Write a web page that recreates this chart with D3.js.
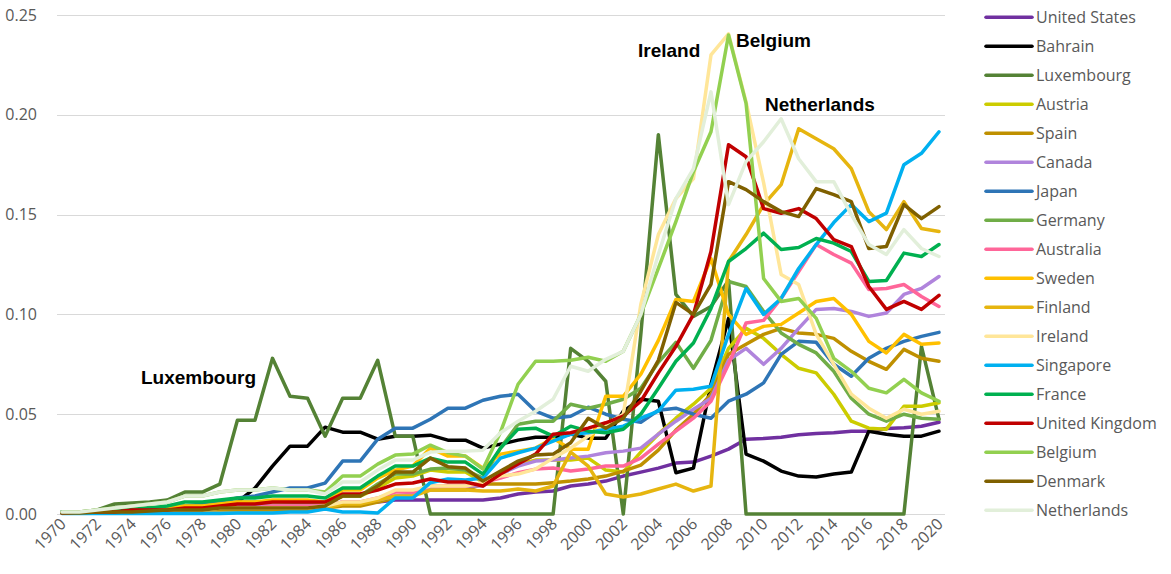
<!DOCTYPE html>
<html>
<head>
<meta charset="utf-8">
<script src="https://cdn.jsdelivr.net/npm/d3@7"></script>
<style>
  body { margin: 0; background: #fff; }
  svg { font-family: "Open Sans", "Liberation Sans", Arial, sans-serif; }
</style>
</head>
<body>
<svg id="chart" width="1171" height="574"></svg>
<script>
// years on the category axis
var years = d3.range(1970, 2021)
var yTicks = [0, 0.05, 0.10, 0.15, 0.20, 0.25]

var countries = ['United States', 'Bahrain', 'Luxembourg', 'Austria', 'Spain', 'Canada', 'Japan', 'Germany',
  'Australia', 'Sweden', 'Finland', 'Ireland', 'Singapore', 'France', 'United Kingdom', 'Belgium', 'Denmark', 'Netherlands']
var colors = ['#7030A0', '#000000', '#548235', '#CCCC00', '#BF9000', '#B084DC', '#2E75B6', '#70AD47',
  '#FF6699', '#FFC000', '#E6B50F', '#FFE699', '#00B0F0', '#00B050', '#C00000', '#92D050', '#7F6000', '#E2EFDA']

// values 1970 ... 2020
var unitedStates = [0.001, 0.001, 0.001, 0.0015, 0.002, 0.002, 0.0025, 0.003, 0.003, 0.003,
  0.004, 0.004, 0.004, 0.0045, 0.005, 0.005, 0.0055, 0.006, 0.006, 0.007,
  0.007, 0.007, 0.007, 0.007, 0.007, 0.008, 0.010, 0.011, 0.0115, 0.014,
  0.015, 0.0165, 0.019, 0.021, 0.023, 0.0255, 0.026, 0.029, 0.0325, 0.0375,
  0.0378, 0.0385, 0.0397, 0.0403, 0.0407, 0.0415, 0.0415, 0.0428, 0.0432, 0.044, 0.046]
var bahrain = [0.0005, 0.0005, 0.001, 0.001, 0.0015, 0.002, 0.002, 0.003, 0.003, 0.004,
  0.006, 0.013, 0.024, 0.034, 0.034, 0.0435, 0.041, 0.041, 0.0375, 0.039,
  0.039, 0.0395, 0.037, 0.037, 0.033, 0.035, 0.037, 0.0385, 0.0385, 0.040,
  0.038, 0.038, 0.0515, 0.0575, 0.0565, 0.0207, 0.023, 0.065, 0.098, 0.030,
  0.0265, 0.0215, 0.019, 0.0185, 0.020, 0.021, 0.0415, 0.040, 0.039, 0.039, 0.0415]
var luxembourg = [0.001, 0.001, 0.002, 0.005, 0.0055, 0.006, 0.007, 0.011, 0.011, 0.015,
  0.047, 0.047, 0.078, 0.059, 0.058, 0.039, 0.058, 0.058, 0.077, 0.039,
  0.039, 0, 0, 0, 0, 0, 0, 0, 0, 0.083,
  0.0765, 0.0665, 0, 0.09, 0.19, 0.11, 0.099, 0.104, 0.117, 0,
  0, 0, 0, 0, 0, 0, 0, 0, 0, 0.084, 0.0475]
var austria = [0.0005, 0.0005, 0.001, 0.001, 0.0015, 0.002, 0.002, 0.003, 0.003, 0.003,
  0.004, 0.004, 0.004, 0.004, 0.004, 0.005, 0.009, 0.009, 0.013, 0.018,
  0.019, 0.022, 0.021, 0.021, 0.016, 0.021, 0.025, 0.027, 0.027, 0.027,
  0.028, 0.022, 0.021, 0.031, 0.040, 0.048, 0.055, 0.063, 0.083, 0.093,
  0.088, 0.080, 0.073, 0.0707, 0.060, 0.0465, 0.043, 0.0425, 0.054, 0.054, 0.0557]
var spain = [0.0005, 0.0005, 0.001, 0.001, 0.001, 0.0015, 0.0015, 0.002, 0.002, 0.002,
  0.002, 0.002, 0.002, 0.002, 0.002, 0.003, 0.004, 0.004, 0.006, 0.008,
  0.010, 0.012, 0.012, 0.012, 0.015, 0.015, 0.015, 0.015, 0.0157, 0.0165,
  0.0175, 0.019, 0.0215, 0.0245, 0.032, 0.042, 0.050, 0.060, 0.080, 0.085,
  0.090, 0.093, 0.0907, 0.090, 0.088, 0.0815, 0.0765, 0.0725, 0.0825, 0.078, 0.0765]
var canada = [0.001, 0.001, 0.001, 0.0015, 0.002, 0.002, 0.002, 0.003, 0.003, 0.003,
  0.004, 0.004, 0.004, 0.004, 0.004, 0.004, 0.006, 0.006, 0.007, 0.009,
  0.010, 0.013, 0.014, 0.014, 0.014, 0.020, 0.024, 0.0265, 0.027, 0.028,
  0.029, 0.0307, 0.0315, 0.033, 0.040, 0.0465, 0.0525, 0.058, 0.077, 0.083,
  0.075, 0.083, 0.093, 0.1025, 0.103, 0.1015, 0.099, 0.1007, 0.110, 0.113, 0.119]
var japan = [0.001, 0.001, 0.001, 0.002, 0.002, 0.003, 0.003, 0.004, 0.005, 0.006,
  0.008, 0.009, 0.011, 0.013, 0.013, 0.0155, 0.0265, 0.0265, 0.0375, 0.043,
  0.043, 0.0475, 0.053, 0.053, 0.057, 0.059, 0.060, 0.0515, 0.048, 0.049,
  0.0535, 0.050, 0.0475, 0.046, 0.052, 0.053, 0.050, 0.048, 0.0565, 0.060,
  0.0657, 0.080, 0.0865, 0.086, 0.075, 0.069, 0.078, 0.083, 0.0865, 0.089, 0.091]
var germany = [0.001, 0.001, 0.001, 0.002, 0.002, 0.003, 0.003, 0.004, 0.004, 0.005,
  0.006, 0.006, 0.006, 0.006, 0.006, 0.006, 0.009, 0.009, 0.015, 0.020,
  0.020, 0.0225, 0.023, 0.022, 0.018, 0.033, 0.045, 0.0465, 0.0465, 0.055,
  0.053, 0.055, 0.0575, 0.063, 0.076, 0.086, 0.073, 0.087, 0.1165, 0.114,
  0.1015, 0.0907, 0.085, 0.0807, 0.0715, 0.058, 0.050, 0.0465, 0.050, 0.048, 0.0475]
var australia = [0.0005, 0.0005, 0.001, 0.001, 0.0015, 0.002, 0.002, 0.002, 0.003, 0.003,
  0.003, 0.003, 0.004, 0.004, 0.004, 0.004, 0.006, 0.006, 0.008, 0.011,
  0.011, 0.014, 0.014, 0.014, 0.0157, 0.018, 0.0207, 0.0225, 0.023, 0.0215,
  0.0225, 0.024, 0.024, 0.028, 0.035, 0.0415, 0.048, 0.0565, 0.075, 0.0957,
  0.097, 0.108, 0.1215, 0.135, 0.130, 0.1257, 0.1125, 0.113, 0.115, 0.109, 0.104]
var sweden = [0.0005, 0.001, 0.001, 0.0015, 0.002, 0.002, 0.003, 0.004, 0.004, 0.005,
  0.006, 0.006, 0.007, 0.007, 0.007, 0.006, 0.012, 0.012, 0.018, 0.022,
  0.024, 0.033, 0.029, 0.029, 0.023, 0.030, 0.0315, 0.033, 0.038, 0.0325,
  0.0325, 0.059, 0.059, 0.070, 0.087, 0.1075, 0.1065, 0.128, 0.100, 0.090,
  0.094, 0.095, 0.1007, 0.1065, 0.108, 0.100, 0.0865, 0.0807, 0.090, 0.085, 0.0857]
var finland = [0.0005, 0.0005, 0.001, 0.001, 0.001, 0.0015, 0.002, 0.002, 0.002, 0.003,
  0.003, 0.003, 0.003, 0.003, 0.003, 0.003, 0.005, 0.005, 0.007, 0.009,
  0.009, 0.012, 0.012, 0.012, 0.0115, 0.0115, 0.0125, 0.0115, 0.014, 0.031,
  0.024, 0.010, 0.0085, 0.010, 0.0125, 0.015, 0.0115, 0.014, 0.1265, 0.140,
  0.155, 0.165, 0.193, 0.188, 0.183, 0.173, 0.1515, 0.1425, 0.1565, 0.143, 0.1415]
var ireland = [0.0005, 0.0005, 0.001, 0.001, 0.001, 0.0015, 0.002, 0.002, 0.002, 0.003,
  0.003, 0.003, 0.003, 0.003, 0.003, 0.004, 0.006, 0.006, 0.008, 0.012,
  0.012, 0.014, 0.014, 0.014, 0.0157, 0.019, 0.020, 0.0225, 0.028, 0.033,
  0.039, 0.045, 0.050, 0.105, 0.140, 0.158, 0.168, 0.230, 0.2405, 0.2065,
  0.166, 0.120, 0.115, 0.090, 0.075, 0.060, 0.053, 0.048, 0.0525, 0.050, 0.0515]
var singapore = [0.0003, 0.0003, 0.0003, 0.0003, 0.0003, 0.0003, 0.0003, 0.0003, 0.0003, 0.0003,
  0.0005, 0.0005, 0.0005, 0.001, 0.001, 0.0025, 0.001, 0.001, 0.0005, 0.008,
  0.008, 0.0157, 0.0175, 0.017, 0.018, 0.028, 0.0307, 0.033, 0.0365, 0.040,
  0.0407, 0.0425, 0.044, 0.048, 0.0515, 0.062, 0.0625, 0.064, 0.090, 0.113,
  0.100, 0.108, 0.123, 0.135, 0.146, 0.155, 0.1465, 0.1507, 0.175, 0.1807, 0.1915]
var france = [0.001, 0.001, 0.001, 0.002, 0.003, 0.003, 0.004, 0.006, 0.006, 0.007,
  0.008, 0.008, 0.009, 0.009, 0.009, 0.008, 0.013, 0.013, 0.019, 0.024,
  0.024, 0.028, 0.026, 0.026, 0.020, 0.033, 0.0425, 0.043, 0.039, 0.044,
  0.0415, 0.0407, 0.0425, 0.050, 0.063, 0.0765, 0.0857, 0.103, 0.1265, 0.133,
  0.1407, 0.1325, 0.1335, 0.138, 0.1357, 0.1315, 0.1165, 0.117, 0.1307, 0.129, 0.135]
var unitedKingdom = [0.0005, 0.001, 0.001, 0.001, 0.002, 0.002, 0.002, 0.003, 0.003, 0.004,
  0.005, 0.005, 0.006, 0.006, 0.006, 0.006, 0.010, 0.010, 0.012, 0.015,
  0.0155, 0.0175, 0.016, 0.016, 0.014, 0.020, 0.025, 0.030, 0.040, 0.0407,
  0.043, 0.0457, 0.049, 0.0565, 0.0707, 0.084, 0.100, 0.1315, 0.185, 0.179,
  0.153, 0.1507, 0.153, 0.148, 0.1375, 0.134, 0.114, 0.1025, 0.1065, 0.1025, 0.1095]
var belgium = [0.001, 0.001, 0.002, 0.003, 0.004, 0.005, 0.006, 0.009, 0.009, 0.011,
  0.012, 0.012, 0.013, 0.012, 0.012, 0.011, 0.019, 0.019, 0.025, 0.0295,
  0.030, 0.0345, 0.0307, 0.029, 0.0225, 0.041, 0.065, 0.0765, 0.0765, 0.077,
  0.0785, 0.0765, 0.0815, 0.100, 0.123, 0.1465, 0.1715, 0.1915, 0.240, 0.2057,
  0.118, 0.1065, 0.108, 0.098, 0.078, 0.0715, 0.063, 0.0607, 0.0675, 0.0607, 0.0565]
var denmark = [0.0005, 0.0005, 0.001, 0.001, 0.001, 0.0015, 0.002, 0.002, 0.002, 0.003,
  0.003, 0.003, 0.003, 0.003, 0.003, 0.004, 0.009, 0.009, 0.014, 0.021,
  0.021, 0.028, 0.0237, 0.023, 0.0165, 0.0215, 0.0265, 0.0295, 0.030, 0.0357,
  0.048, 0.043, 0.048, 0.0615, 0.077, 0.106, 0.100, 0.115, 0.1665, 0.1625,
  0.1565, 0.1515, 0.149, 0.163, 0.160, 0.1565, 0.133, 0.134, 0.155, 0.148, 0.154]
var netherlands = [0.001, 0.001, 0.002, 0.003, 0.004, 0.005, 0.006, 0.009, 0.009, 0.011,
  0.012, 0.012, 0.013, 0.012, 0.012, 0.010, 0.016, 0.016, 0.022, 0.027,
  0.027, 0.031, 0.0315, 0.0315, 0.032, 0.0407, 0.0465, 0.0515, 0.0575, 0.074,
  0.0715, 0.0775, 0.0815, 0.100, 0.130, 0.158, 0.173, 0.2115, 0.155, 0.1765,
  0.1865, 0.198, 0.178, 0.1665, 0.1665, 0.150, 0.135, 0.130, 0.1425, 0.133, 0.129]

var seriesValues = [unitedStates, bahrain, luxembourg, austria, spain, canada, japan, germany,
  australia, sweden, finland, ireland, singapore, france, unitedKingdom, belgium, denmark, netherlands]

var callouts = [
  {text: 'Luxembourg', x: 141, y: 384},
  {text: 'Ireland', x: 638, y: 57},
  {text: 'Belgium', x: 736, y: 47},
  {text: 'Netherlands', x: 765, y: 111}
]

var svg = d3.select('#chart')

var x = d3.scalePoint().domain(years).range([62, 939])
var y = d3.scaleLinear().domain([0, 0.25]).range([514, 15])

/** grid lines */
svg.append('g').selectAll('line').data(yTicks).enter().append('line')
  .attr('x1', 57).attr('x2', 945)
  .attr('y1', function (d) { return Math.round(y(d)) + 0.5 })
  .attr('y2', function (d) { return Math.round(y(d)) + 0.5 })
  .style('stroke', '#d9d9d9').style('stroke-width', 1)

/** y axis labels */
svg.append('g').selectAll('text').data(yTicks).enter().append('text')
  .attr('x', 37).attr('y', function (d) { return y(d) + 5.5 })
  .attr('text-anchor', 'end')
  .style('font-size', '16px').style('fill', '#595959')
  .text(function (d) { return d3.format('.2f')(d) })

/** x axis labels, every other year */
svg.append('g').selectAll('text').data(years.filter(function (d) { return d % 2 === 0 })).enter().append('text')
  .attr('transform', function (d) { return 'translate(' + (x(d) + 5) + ',525) rotate(-45)' })
  .attr('text-anchor', 'end')
  .style('font-size', '16px').style('fill', '#595959')
  .text(function (d) { return d })

/** lines */
var line = d3.line()
  .x(function (d, i) { return x(years[i]) })
  .y(function (d) { return y(d) })

svg.append('g').selectAll('path').data(seriesValues).enter().append('path')
  .attr('d', line)
  .style('fill', 'none')
  .style('stroke', function (d, i) { return colors[i] })
  .style('stroke-width', 3.5)
  .style('stroke-linejoin', 'round')
  .style('stroke-linecap', 'round')

/** callout labels */
svg.append('g').selectAll('text').data(callouts).enter().append('text')
  .attr('x', function (d) { return d.x }).attr('y', function (d) { return d.y })
  .style('font-family', '"Liberation Sans", Arial, sans-serif')
  .style('font-size', '19px').style('font-weight', 'bold').style('fill', '#000')
  .text(function (d) { return d.text })

/** legend */
var legend = svg.append('g').selectAll('g').data(countries).enter().append('g')
  .attr('transform', function (d, i) { return 'translate(986,' + (17.3 + i * 29) + ')' })
legend.append('line')
  .attr('x1', 0).attr('x2', 46).attr('y1', 0).attr('y2', 0)
  .style('stroke', function (d, i) { return colors[i] })
  .style('stroke-width', 3.5).style('stroke-linecap', 'round')
legend.append('text')
  .attr('x', 50).attr('y', 6)
  .style('font-size', '16px').style('fill', '#595959')
  .text(function (d) { return d })
</script>
</body>
</html>
